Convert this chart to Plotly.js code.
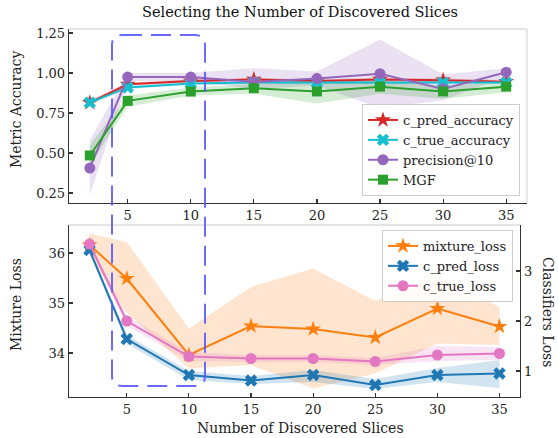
<!DOCTYPE html>
<html>
<head>
<meta charset="utf-8">
<script src="https://cdn.plot.ly/plotly-3.0.1.min.js"></script>
<style>html,body{margin:0;padding:0;background:#fff;}#chart{width:558px;height:438px;}</style>
</head>
<body>
<div id="chart"></div>
<script>
// ---- data ----
const slices = [2, 5, 10, 15, 20, 25, 30, 35];
const xTicks = [5, 10, 15, 20, 25, 30, 35];

const cPredAcc      = [0.815, 0.93, 0.95, 0.96, 0.95, 0.96, 0.955, 0.946];
const cPredAccLo    = [0.80, 0.92, 0.94, 0.95, 0.94, 0.95, 0.945, 0.936];
const cPredAccHi    = [0.83, 0.94, 0.96, 0.97, 0.96, 0.97, 0.965, 0.956];

const cTrueAcc      = [0.815, 0.91, 0.935, 0.94, 0.94, 0.94, 0.94, 0.94];
const cTrueAccLo    = [0.80, 0.90, 0.925, 0.93, 0.93, 0.93, 0.93, 0.93];
const cTrueAccHi    = [0.83, 0.92, 0.945, 0.95, 0.95, 0.95, 0.95, 0.95];

const precAt10      = [0.406, 0.975, 0.975, 0.944, 0.965, 0.996, 0.90, 1.005];
const precAt10Lo    = [0.24, 0.95, 0.95, 0.90, 0.92, 0.78, 0.83, 0.98];
const precAt10Hi    = [0.58, 1.00, 1.00, 1.03, 1.01, 1.21, 0.99, 1.03];

const mgf           = [0.485, 0.826, 0.884, 0.905, 0.885, 0.915, 0.885, 0.915];
const mgfLo         = [0.42, 0.79, 0.86, 0.87, 0.81, 0.87, 0.84, 0.88];
const mgfHi         = [0.55, 0.86, 0.91, 0.93, 0.95, 0.95, 0.92, 0.94];

const mixtureLoss   = [36.16, 35.49, 33.96, 34.54, 34.48, 34.31, 34.89, 34.53];
const mixtureLossLo = [35.95, 34.80, 33.69, 33.76, 33.29, 33.59, 34.19, 34.16];
const mixtureLossHi = [36.39, 36.22, 34.49, 35.32, 35.69, 35.04, 35.55, 34.92];

const cPredLoss     = [3.42, 1.64, 0.92, 0.81, 0.92, 0.72, 0.92, 0.95];
const cPredLossLo   = [3.36, 1.55, 0.82, 0.74, 0.78, 0.64, 0.78, 0.66];
const cPredLossHi   = [3.48, 1.72, 1.00, 0.90, 1.02, 0.84, 1.06, 1.22];

const cTrueLoss     = [3.54, 2.00, 1.29, 1.25, 1.25, 1.19, 1.32, 1.35];
const cTrueLossLo   = [3.48, 1.90, 1.20, 1.18, 1.18, 1.12, 1.20, 1.22];
const cTrueLossHi   = [3.60, 2.10, 1.38, 1.32, 1.32, 1.26, 1.50, 1.48];

// ---- style ----
const FONT = "'DejaVu Serif', 'Liberation Serif', serif";
const C = {red:"#d62728", cyan:"#17becf", purple:"#9467bd", green:"#2ca02c",
           orange:"#ff7f0e", blue:"#1f77b4", pink:"#e377c2"};
function rgba(hex, a){const n=parseInt(hex.slice(1),16);return `rgba(${n>>16},${(n>>8)&255},${n&255},${a})`;}

function band(lo, hi, color, xa, ya){
  return {x: slices.concat(slices.slice().reverse()), y: hi.concat(lo.slice().reverse()),
    type:"scatter", mode:"lines", fill:"toself", fillcolor: rgba(color,0.2),
    line:{width:0, color:"rgba(0,0,0,0)"}, showlegend:false, hoverinfo:"skip", xaxis:xa, yaxis:ya};
}
function line(y, name, color, symbol, size, xa, ya, legend){
  return {x: slices, y: y, name: name, type:"scatter", mode:"lines+markers",
    line:{color:color, width:2}, marker:{color:color, symbol:symbol, size:size, line:{width:0}},
    xaxis:xa, yaxis:ya, legend:legend};
}

const traces = [
  band(cPredAccLo, cPredAccHi, C.red, "x", "y"),
  band(cTrueAccLo, cTrueAccHi, C.cyan, "x", "y"),
  band(precAt10Lo, precAt10Hi, C.purple, "x", "y"),
  band(mgfLo, mgfHi, C.green, "x", "y"),
  line(cPredAcc, "c_pred_accuracy", C.red, "star", 12, "x", "y", "legend"),
  line(cTrueAcc, "c_true_accuracy", C.cyan, "x", 11, "x", "y", "legend"),
  line(precAt10, "precision@10", C.purple, "circle", 11, "x", "y", "legend"),
  line(mgf, "MGF", C.green, "square", 10, "x", "y", "legend"),

  band(mixtureLossLo, mixtureLossHi, C.orange, "x2", "y2"),
  line(mixtureLoss, "mixture_loss", C.orange, "star", 12, "x2", "y2", "legend2"),
  band(cPredLossLo, cPredLossHi, C.blue, "x2", "y3"),
  band(cTrueLossLo, cTrueLossHi, C.pink, "x2", "y3"),
  line(cPredLoss, "c_pred_loss", C.blue, "x", 11, "x2", "y3", "legend2"),
  line(cTrueLoss, "c_true_loss", C.pink, "circle", 11, "x2", "y3", "legend2"),
];

// ---- geometry ----
const W=558, H=438, ML=69, MR=31, MT=29, MB=41;
const PW=W-ML-MR, PH=H-MT-MB;
const px = v => (v-ML)/PW;
const py = v => (H-MB-v)/PH;

const xRange=[0.35, 36.65];
const axFont={family:FONT, size:13, color:"#222"};
const common = {showgrid:false, zeroline:false, showline:true, linecolor:"#333", linewidth:1.3,
  ticks:"inside", ticklen:4, tickwidth:1.2, tickcolor:"#333", tickfont:axFont};

// rounded dashed selection box (pixel geometry -> paper)
const bx1=112, bx2=205, by1=35, by2=386, r=10;
const boxPath = [
  `M ${px(bx1+r)},${py(by1)}`,
  `L ${px(bx2-r)},${py(by1)}`,
  `Q ${px(bx2)},${py(by1)} ${px(bx2)},${py(by1+r)}`,
  `L ${px(bx2)},${py(by2-r)}`,
  `Q ${px(bx2)},${py(by2)} ${px(bx2-r)},${py(by2)}`,
  `L ${px(bx1+r)},${py(by2)}`,
  `Q ${px(bx1)},${py(by2)} ${px(bx1)},${py(by2-r)}`,
  `L ${px(bx1)},${py(by1+r)}`,
  `Q ${px(bx1)},${py(by1)} ${px(bx1+r)},${py(by1)}`
].join(" ");

const light = "#dcdcdc";
const legFont = {family:FONT, size:13, color:"#222"};
const layout = {
  width:W, height:H, margin:{l:ML, r:MR, t:MT, b:MB, pad:0},
  paper_bgcolor:"#fff", plot_bgcolor:"#fff", showlegend:true,
  font:{family:FONT, color:"#222"},
  title:{text:"Selecting the Number of Discovered Slices", font:{family:FONT, size:14.5, color:"#111"},
         xref:"paper", x:px(300), xanchor:"center", yref:"container", y:1-12/H, yanchor:"middle"},
  xaxis:Object.assign({}, common, {domain:[0,1], anchor:"y", range:xRange, tickvals:xTicks}),
  yaxis:Object.assign({}, common, {domain:[py(203),1], anchor:"x", range:[0.188,1.275],
        tickvals:[0.25,0.5,0.75,1.0,1.25], tickformat:".2f"}),
  xaxis2:Object.assign({}, common, {domain:[0,px(520)], anchor:"y2", range:xRange, tickvals:xTicks}),
  yaxis2:Object.assign({}, common, {domain:[0,py(225)], anchor:"x2", range:[33.12,36.56], tickvals:[34,35,36]}),
  yaxis3:Object.assign({}, common, {overlaying:"y2", side:"right", anchor:"x2", range:[0.48,3.92], tickvals:[1,2,3]}),
  legend:{x:px(520), xanchor:"right", y:py(196), yanchor:"bottom", xref:"paper", yref:"paper",
          bgcolor:"rgba(255,255,255,0.85)", bordercolor:"#cccccc", borderwidth:1,
          font:legFont, itemwidth:30, tracegroupgap:0},
  legend2:{x:px(513), xanchor:"right", y:py(230), yanchor:"top", xref:"paper", yref:"paper",
          bgcolor:"rgba(255,255,255,0.85)", bordercolor:"#cccccc", borderwidth:1,
          font:legFont, itemwidth:30, tracegroupgap:0},
  shapes:[
    {type:"line", xref:"x domain", yref:"y domain", x0:0, x1:1, y0:1, y1:1, line:{color:light, width:1.3}},
    {type:"line", xref:"x domain", yref:"y domain", x0:1, x1:1, y0:0, y1:1, line:{color:light, width:1.3}},
    {type:"line", xref:"x2 domain", yref:"y2 domain", x0:0, x1:1, y0:1, y1:1, line:{color:light, width:1.3}},
    {type:"path", xref:"paper", yref:"paper", path:boxPath, layer:"above",
     line:{color:"rgba(90,90,255,0.9)", width:2, dash:"20px,9px"}}
  ],
  annotations:[
    {text:"Metric Accuracy", xref:"paper", yref:"paper", x:px(16), y:py(110), textangle:-90, showarrow:false,
     font:{family:FONT, size:14, color:"#222"}, xanchor:"center", yanchor:"middle"},
    {text:"Mixture Loss", xref:"paper", yref:"paper", x:px(16), y:py(305), textangle:-90, showarrow:false,
     font:{family:FONT, size:14, color:"#222"}, xanchor:"center", yanchor:"middle"},
    {text:"Classifiers Loss", xref:"paper", yref:"paper", x:px(548), y:py(312), textangle:90, showarrow:false,
     font:{family:FONT, size:14, color:"#222"}, xanchor:"center", yanchor:"middle"},
    {text:"Number of Discovered Slices", xref:"paper", yref:"paper", x:px(300), y:py(428), showarrow:false,
     font:{family:FONT, size:14, color:"#222"}, xanchor:"center", yanchor:"middle"}
  ]
};

Plotly.newPlot("chart", traces, layout, {displayModeBar:false, staticPlot:true});
</script>
</body>
</html>
